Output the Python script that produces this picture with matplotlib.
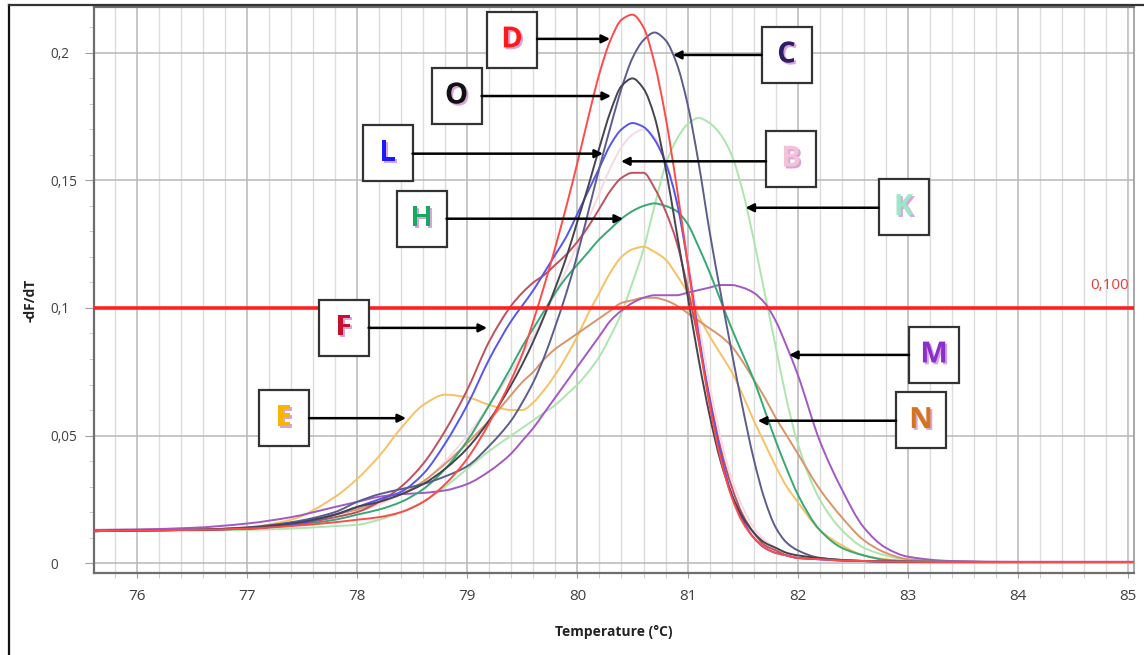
import matplotlib
matplotlib.use("Agg")
import numpy as np
import matplotlib.pyplot as plt
from matplotlib.patches import Rectangle, PathPatch
from matplotlib.path import Path
from matplotlib.lines import Line2D
from matplotlib.ticker import MultipleLocator, FuncFormatter
import matplotlib.patheffects as pe

plt.rcParams['font.family'] = ['Open Sans', 'DejaVu Sans']

# ---------------- data ----------------
temps = [75.6, 76.0, 76.5, 77.0, 77.4, 77.8,
         78.0, 78.2, 78.4, 78.6, 78.8, 79.0, 79.2, 79.4,
         79.5, 79.6, 79.7, 79.8, 79.9, 80.0, 80.1, 80.2, 80.3, 80.4, 80.5,
         80.6, 80.7, 80.8, 80.9, 81.0, 81.1, 81.2, 81.3, 81.4, 81.5, 81.6,
         81.7, 81.8, 81.9, 82.0,
         82.2, 82.4, 82.6, 82.8, 83.0,
         83.4, 84.0, 85.1]

B_vals = [0.0125, 0.0128, 0.013, 0.0135, 0.015, 0.018,
          0.020, 0.023, 0.027, 0.032, 0.040, 0.050, 0.062, 0.075,
          0.082, 0.089, 0.097, 0.106, 0.115, 0.125, 0.135, 0.145, 0.155, 0.163, 0.168,
          0.170, 0.167, 0.158, 0.142, 0.120, 0.095, 0.070, 0.049, 0.033, 0.022, 0.014,
          0.009, 0.006, 0.004, 0.003,
          0.0018, 0.0012, 0.0008, 0.0006, 0.0005,
          0.0004, 0.0004, 0.0004]

K_vals = [0.0125, 0.0127, 0.0128, 0.013, 0.0135, 0.0145,
          0.015, 0.017, 0.020, 0.024, 0.030, 0.037, 0.044, 0.050,
          0.053, 0.056, 0.059, 0.062, 0.066, 0.070, 0.075, 0.081, 0.089, 0.098, 0.110,
          0.123, 0.140, 0.156, 0.166, 0.172, 0.1745, 0.1725, 0.168, 0.160, 0.146, 0.127,
          0.106, 0.085, 0.064, 0.047,
          0.025, 0.013, 0.006, 0.003, 0.0012,
          0.0006, 0.0004, 0.0004]

E_vals = [0.0125, 0.0127, 0.013, 0.014, 0.017, 0.026,
          0.033, 0.042, 0.053, 0.062, 0.066, 0.065, 0.062, 0.060,
          0.060, 0.063, 0.068, 0.074, 0.081, 0.089, 0.098, 0.106, 0.114, 0.120, 0.123,
          0.124, 0.122, 0.119, 0.113, 0.106, 0.097, 0.089, 0.082, 0.075, 0.066, 0.056,
          0.047, 0.038, 0.030, 0.024,
          0.013, 0.007, 0.003, 0.0015, 0.0008,
          0.0005, 0.0004, 0.0004]

N_vals = [0.0125, 0.0128, 0.013, 0.0138, 0.0155, 0.019,
          0.021, 0.024, 0.027, 0.032, 0.039, 0.047, 0.056, 0.066,
          0.071, 0.075, 0.080, 0.084, 0.087, 0.090, 0.093, 0.096, 0.099, 0.102, 0.103,
          0.104, 0.104, 0.103, 0.101, 0.098, 0.095, 0.092, 0.089, 0.085, 0.079, 0.072,
          0.065, 0.057, 0.050, 0.043,
          0.029, 0.018, 0.009, 0.004, 0.0015,
          0.0006, 0.0004, 0.0004]

M_vals = [0.013, 0.0132, 0.0138, 0.0155, 0.018, 0.022,
          0.024, 0.026, 0.027, 0.0275, 0.0285, 0.031, 0.036, 0.043,
          0.048, 0.053, 0.059, 0.065, 0.071, 0.077, 0.083, 0.089, 0.095, 0.099, 0.102,
          0.104, 0.105, 0.105, 0.105, 0.106, 0.107, 0.108, 0.109, 0.109, 0.108, 0.106,
          0.102, 0.095, 0.085, 0.074,
          0.048, 0.029, 0.014, 0.006, 0.0025,
          0.0008, 0.0005, 0.0005]

H_vals = [0.0125, 0.0128, 0.013, 0.0135, 0.0148, 0.017,
          0.019, 0.021, 0.024, 0.029, 0.037, 0.048, 0.062, 0.077,
          0.085, 0.092, 0.099, 0.106, 0.112, 0.117, 0.122, 0.127, 0.131, 0.135, 0.138,
          0.140, 0.141, 0.140, 0.138, 0.133, 0.124, 0.114, 0.103, 0.092, 0.082, 0.072,
          0.060, 0.048, 0.037, 0.027,
          0.013, 0.006, 0.003, 0.0012, 0.0007,
          0.0005, 0.0004, 0.0004]

F_vals = [0.0125, 0.0128, 0.013, 0.0135, 0.015, 0.018,
          0.020, 0.024, 0.030, 0.039, 0.052, 0.068, 0.087, 0.101,
          0.106, 0.110, 0.113, 0.117, 0.121, 0.126, 0.132, 0.139, 0.146, 0.151, 0.153,
          0.153, 0.147, 0.138, 0.126, 0.108, 0.087, 0.065, 0.045, 0.030, 0.019, 0.012,
          0.007, 0.005, 0.003, 0.002,
          0.0015, 0.001, 0.0008, 0.0006, 0.0005,
          0.0004, 0.0004, 0.0004]

L_vals = [0.0125, 0.0128, 0.013, 0.0135, 0.015, 0.019,
          0.022, 0.025, 0.028, 0.035, 0.047, 0.062, 0.080, 0.095,
          0.101, 0.107, 0.114, 0.121, 0.128, 0.137, 0.146, 0.155, 0.164, 0.170, 0.1725,
          0.171, 0.166, 0.157, 0.142, 0.118, 0.090, 0.064, 0.043, 0.027, 0.017, 0.010,
          0.006, 0.004, 0.003, 0.002,
          0.0015, 0.001, 0.0008, 0.0006, 0.0005,
          0.0004, 0.0004, 0.0004]

C_vals = [0.0125, 0.0128, 0.013, 0.014, 0.016, 0.020,
          0.024, 0.027, 0.029, 0.031, 0.034, 0.038, 0.046, 0.056,
          0.063, 0.071, 0.081, 0.093, 0.106, 0.121, 0.138, 0.155, 0.171, 0.186, 0.198,
          0.205, 0.208, 0.205, 0.196, 0.180, 0.157, 0.130, 0.106, 0.083, 0.061, 0.041,
          0.025, 0.014, 0.008, 0.005,
          0.002, 0.0012, 0.0008, 0.0006, 0.0005,
          0.0004, 0.0004, 0.0004]

O_vals = [0.0125, 0.0128, 0.013, 0.0138, 0.0155, 0.019,
          0.022, 0.024, 0.027, 0.031, 0.037, 0.045, 0.056, 0.070,
          0.078, 0.087, 0.097, 0.108, 0.120, 0.134, 0.148, 0.163, 0.177, 0.187, 0.190,
          0.186, 0.175, 0.155, 0.130, 0.105, 0.080, 0.058, 0.040, 0.027, 0.018, 0.012,
          0.008, 0.006, 0.004, 0.003,
          0.002, 0.0012, 0.0008, 0.0006, 0.0005,
          0.0004, 0.0004, 0.0004]

D_vals = [0.0125, 0.0128, 0.013, 0.0135, 0.0145, 0.016,
          0.017, 0.018, 0.020, 0.024, 0.031, 0.041, 0.055, 0.072,
          0.082, 0.095, 0.109, 0.124, 0.140, 0.157, 0.175, 0.192, 0.205, 0.213, 0.215,
          0.210, 0.196, 0.175, 0.148, 0.118, 0.088, 0.062, 0.041, 0.026, 0.016, 0.010,
          0.006, 0.004, 0.003, 0.002,
          0.0015, 0.001, 0.0008, 0.0006, 0.0005,
          0.0004, 0.0004, 0.0004]

series_names = ['B', 'K', 'E', 'N', 'M', 'H', 'F', 'L', 'C', 'O', 'D']
series_values = [B_vals, K_vals, E_vals, N_vals, M_vals, H_vals, F_vals,
                 L_vals, C_vals, O_vals, D_vals]
line_colors = ['#f7d9e4', '#ade6ad', '#f5c264', '#d8956a', '#a458c2', '#36a874',
               '#c0505e', '#5656ee', '#5c5c8e', '#45454f', '#ff4a4a']

threshold = 0.100
threshold_label = '0,100'

# annotation labels: letter, text colour, box centre (T, v), arrow tip (T, v)
ann_letters = ['D', 'C', 'O', 'L', 'B', 'H', 'K', 'M', 'N', 'F', 'E']
ann_colors = ['#ff1a1a', '#2e1d66', '#111111', '#1a1aff', '#f4c2d6', '#17a862',
              '#9fe6c8', '#8a2fcc', '#d4741c', '#c8102e', '#f8b500']
ann_box = [(79.406, 0.2051), (81.899, 0.1992), (78.902, 0.1831), (78.275, 0.1606),
           (81.940, 0.1584), (78.584, 0.1349), (82.962, 0.1394), (83.239, 0.0816),
           (83.121, 0.0559), (77.876, 0.0922), (77.335, 0.0567)]
ann_tip = [(80.296, 0.2055), (80.868, 0.1992), (80.305, 0.1831), (80.232, 0.1605),
           (80.396, 0.1575), (80.414, 0.1350), (81.526, 0.1393), (81.922, 0.0816),
           (81.638, 0.0558), (79.179, 0.0922), (78.443, 0.0568)]

x_ticks = [76, 77, 78, 79, 80, 81, 82, 83, 84, 85]
y_ticks = [0, 0.05, 0.1, 0.15, 0.2]


def smooth_curve_path(xs, ys):
    """Smooth (monotone cubic Hermite) Bezier path through the read points."""
    x = np.asarray(xs, float)
    y = np.asarray(ys, float)
    h = np.diff(x)
    d = np.diff(y) / h
    n = len(x)
    m = np.zeros(n)
    for i in range(1, n - 1):
        if d[i - 1] * d[i] > 0:
            w1 = 2 * h[i] + h[i - 1]
            w2 = h[i] + 2 * h[i - 1]
            m[i] = (w1 + w2) / (w1 / d[i - 1] + w2 / d[i])
    m[0] = d[0]
    m[-1] = d[-1]
    verts = [(x[0], y[0])]
    codes = [Path.MOVETO]
    for i in range(n - 1):
        verts += [(x[i] + h[i] / 3, y[i] + m[i] * h[i] / 3),
                  (x[i + 1] - h[i] / 3, y[i + 1] - m[i + 1] * h[i] / 3),
                  (x[i + 1], y[i + 1])]
        codes += [Path.CURVE4] * 3
    return Path(verts, codes)


# ---------------- figure ----------------
W, H = 1144, 655
fig = plt.figure(figsize=(W / 100, H / 100), dpi=100)
ax = fig.add_axes([94 / W, 1 - 573 / H, (1134 - 94) / W, (573 - 7) / H])

xmin, xmax = 75.609, 85.055
ymin, ymax = -0.0039, 0.2180
ax.set_xlim(xmin, xmax)
ax.set_ylim(ymin, ymax)

# grid
ax.xaxis.set_major_locator(MultipleLocator(1))
ax.xaxis.set_minor_locator(MultipleLocator(0.2))
ax.yaxis.set_major_locator(MultipleLocator(0.05))
ax.yaxis.set_minor_locator(MultipleLocator(0.01))
ax.grid(which='minor', axis='x', color='#dcdcdc', lw=1.0, zorder=0)
ax.grid(which='major', axis='x', color='#b8b8b8', lw=1.1, zorder=0)
ax.grid(which='major', axis='y', color='#b8b8b8', lw=1.1, zorder=0)
ax.set_axisbelow(True)

ax.set_xticks(x_ticks)
ax.set_yticks(y_ticks)
ax.yaxis.set_major_formatter(FuncFormatter(
    lambda v, p: ('%g' % round(v, 3)).replace('.', ',')))
ax.tick_params(axis='x', which='major', length=3.6, color='#a0a0a0', pad=8,
               labelsize=11, labelcolor='#404040')
ax.tick_params(axis='x', which='minor', length=3.6, color='#c8c8c8')
ax.tick_params(axis='y', which='major', length=6.5, color='#a0a0a0', pad=25,
               labelsize=9.8, labelcolor='#404040')
ax.tick_params(axis='y', which='minor', length=3.6, color='#c8c8c8')
for lab in ax.get_yticklabels():
    lab.set_horizontalalignment('left')

for s in ax.spines.values():
    s.set_color('#6e6e6e')
    s.set_linewidth(1.6)
ax.spines['right'].set_color('#9a9a9a')
ax.spines['right'].set_linewidth(1.2)

# curves
for vals, col in zip(series_values, line_colors):
    ax.add_patch(PathPatch(smooth_curve_path(temps, vals), fill=False,
                           edgecolor=col, lw=1.4, zorder=3, capstyle='round',
                           joinstyle='round'))

# threshold
ax.axhline(threshold, color='#ff2020', lw=2.6, zorder=4)
ax.text(0.995, threshold + 0.006, threshold_label, transform=ax.get_yaxis_transform(),
        ha='right', va='bottom', color='#f03a3a', fontsize=11)

# annotation boxes
bw, bh = 50 / 110.1, 56 / 2550.0
shadow = [pe.SimplePatchShadow(offset=(1.4, -1.4), shadow_rgbFace='#d49ad8', alpha=0.9),
          pe.Normal()]
for letter, tc, (bx, by), (tx, ty) in zip(ann_letters, ann_colors, ann_box, ann_tip):
    ax.add_patch(Rectangle((bx - bw / 2, by - bh / 2), bw, bh, facecolor='white',
                           edgecolor='#333333', lw=1.6, zorder=6))
    ax.text(bx, by, letter, ha='center', va='center', fontsize=21, fontweight='bold',
            color=tc, zorder=7, path_effects=shadow)
    start_x = bx + bw / 2 if tx > bx else bx - bw / 2
    ax.annotate('', xy=(tx, ty), xytext=(start_x, ty),
                arrowprops=dict(arrowstyle='-|>', color='black', lw=1.8,
                                mutation_scale=12, shrinkA=0, shrinkB=0),
                zorder=6)

# axis labels
ax.text(0.5, (573 - 632) / (573 - 7), 'Temperature (°C)', transform=ax.transAxes,
        ha='center', va='center', fontsize=10, fontweight='bold', color='#222222')
fig.text(31 / W, 1 - 300 / H, '-dF/dT', rotation=90, ha='center', va='center',
         fontsize=10, fontweight='bold', color='#222222')

# outer frame lines
fig.add_artist(Line2D([8.5 / W, 8.5 / W], [0, 1 - 5 / H], transform=fig.transFigure,
                      color='#111111', lw=1.6))
fig.add_artist(Line2D([8.5 / W, 1], [1 - 5 / H, 1 - 5 / H], transform=fig.transFigure,
                      color='#333333', lw=1.6))

fig.savefig('out.png', dpi=100, facecolor='white')
